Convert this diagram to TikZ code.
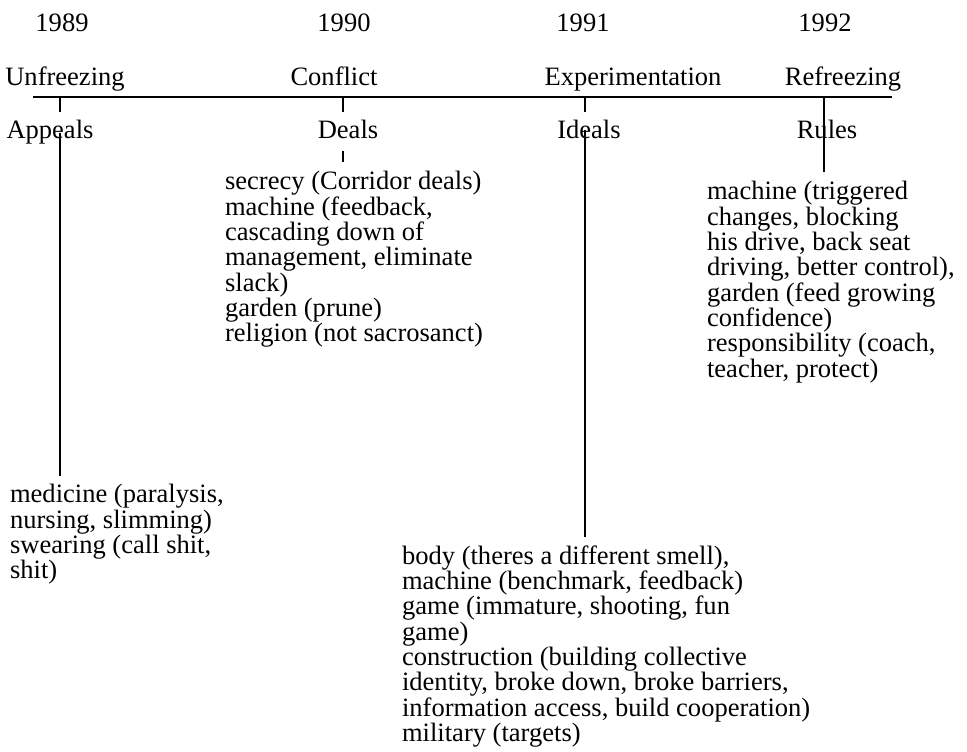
\documentclass[tikz,border=0pt]{standalone}
\usepackage{fontspec}
\setmainfont{Liberation Serif}
\tikzset{
  txt/.style={font=\fontsize{19.9}{19}\selectfont, anchor=base, inner sep=6.6pt},
  blk/.style={font=\fontsize{19.9}{19}\selectfont, align=left, anchor=north west, inner sep=6.6pt},
  ln/.style={line width=1.3pt}
}
\begin{document}
\begin{tikzpicture}[x=0.75pt,y=-0.75pt]
\useasboundingbox (0,0) rectangle (967,752);
        \node[txt] (y89) at (62,32) {1989};
        \node[txt] (y90) at (344,32) {1990};
        \node[txt] (y91) at (583,32) {1991};
        \node[txt] (y92) at (825,32) {1992};
        \node[txt] (unfreeze) at (65,86) {Unfreezing};
        \node[txt] (conflict) at (334,86) {Conflict};
        \node[txt] (experiment) at (633,86) {Experimentation};
        \node[txt] (refreeze) at (843,86) {Refreezing};
        \coordinate (tlA) at (33,97);
        \coordinate (tlB) at (892,97);
        \draw[ln] (tlA) -- (tlB);
        \coordinate (t1) at (60,97);
        \coordinate (t2) at (343,97);
        \coordinate (t3) at (585,97);
        \coordinate (t4) at (824,97);
        \node[txt] (appeals) at (50,139) {Appeals};
        \node[txt] (deals) at (348,139) {Deals};
        \node[txt] (ideals) at (589,139) {Ideals};
        \node[txt] (rules) at (827,139) {Rules};
        \node[blk] (dealsblk) at (216,162.5) {secrecy (Corridor deals)\\machine (feedback,\\cascading down of\\management, eliminate\\slack)\\garden (prune)\\religion (not sacrosanct)};
        \node[blk] (rulesblk) at (698,172.5) {machine (triggered\\changes, blocking\\his drive, back seat\\driving, better control),\\garden (feed growing\\confidence)\\responsibility (coach,\\teacher, protect)};
        \node[blk] (appealsblk) at (1,475.5) {medicine (paralysis,\\nursing, slimming)\\swearing (call shit,\\shit)};
        \node[blk] (idealsblk) at (393,536.5) {body (theres a different smell),\\machine (benchmark, feedback)\\game (immature, shooting, fun\\game)\\construction (building collective\\identity, broke down, broke barriers,\\information access, build cooperation)\\military (targets)};
        \draw[ln] (t1) -- (t1 |- appeals.north);
        \draw[ln] (t1 |- appeals.center) -- (t1 |- appealsblk.north);
        \draw[ln] (t2) -- (t2 |- deals.north);
        \draw[line width=1pt, shorten <=2pt] (t2 |- deals.south) -- (t2 |- dealsblk.north);
        \draw[ln] (t3) -- (t3 |- ideals.north);
        \draw[ln] (t3 |- ideals.center) -- (t3 |- idealsblk.north);
        \draw[ln] (t4) -- (t4 |- rulesblk.north);
\end{tikzpicture}
\end{document}
